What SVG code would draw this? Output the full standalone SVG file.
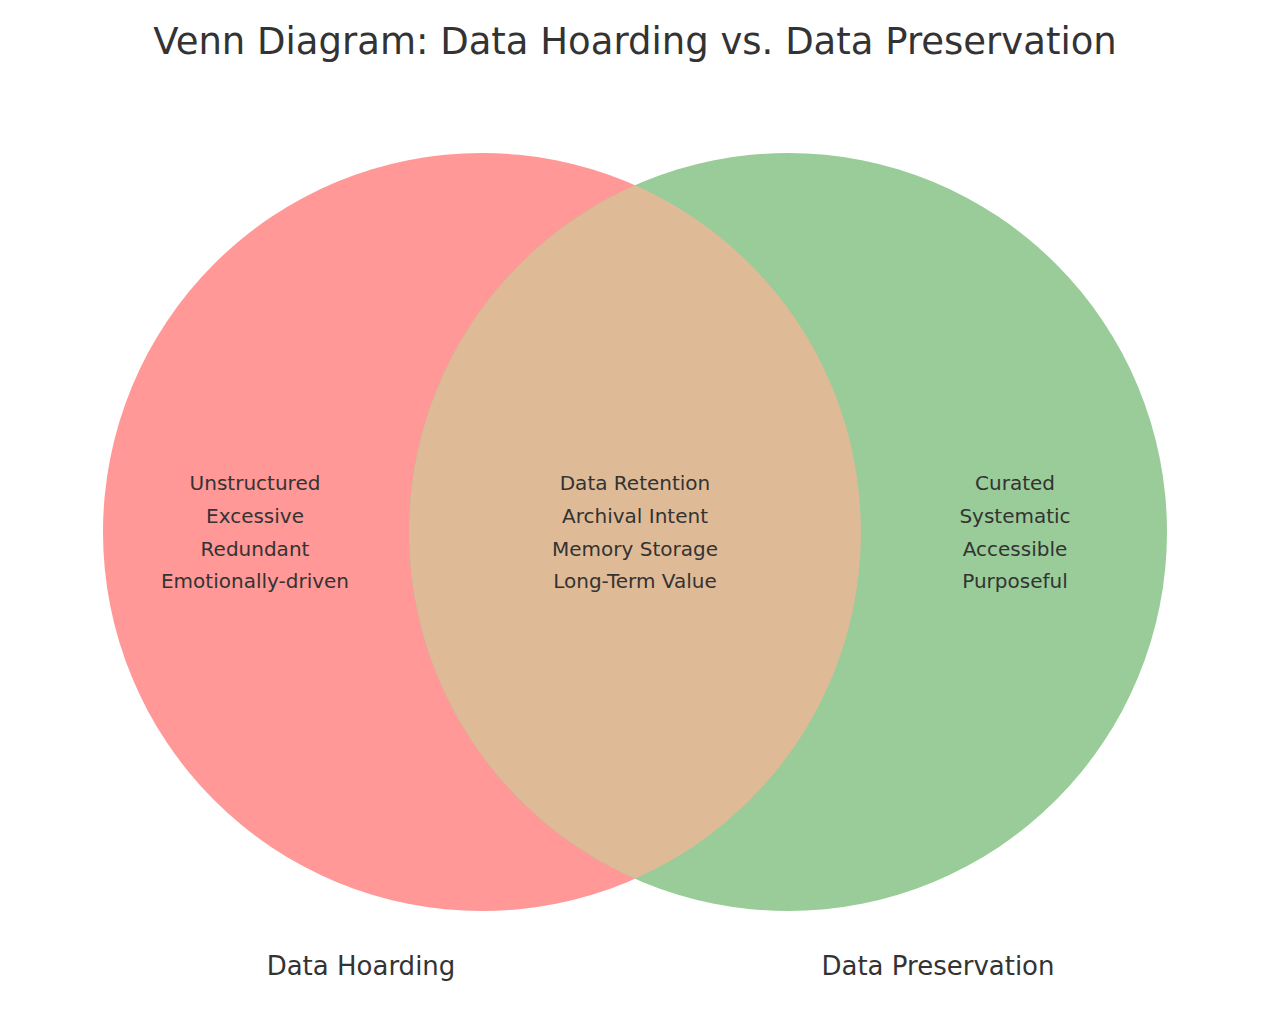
<svg xmlns="http://www.w3.org/2000/svg" width="1270" height="1014" viewBox="0 0 1270 1014">
<style>
text{font-family:"DejaVu Sans",sans-serif;fill:#333;text-anchor:middle}
.s{font-size:20px}
.l{font-size:26px}
</style>
<rect width="1270" height="1014" fill="#fff"/>
<text x="635" y="54" style="font-size:37px">Venn Diagram: Data Hoarding vs. Data Preservation</text>
<g id="hoarding"><circle cx="482" cy="532" r="379" fill="#ff9896"/></g>
<g id="preservation"><circle cx="788" cy="532" r="379" fill="#99cc99"/></g>
<g id="overlap"><path d="M635,185.3 A379,379 0 0 1 635,878.7 A379,379 0 0 1 635,185.3 Z" fill="#dfba96"/></g>
<g id="texts">
<text class="s" x="255" y="490">Unstructured</text>
<text class="s" x="255" y="523">Excessive</text>
<text class="s" x="255" y="556">Redundant</text>
<text class="s" x="255" y="588">Emotionally-driven</text>
<text class="s" x="635" y="490">Data Retention</text>
<text class="s" x="635" y="523">Archival Intent</text>
<text class="s" x="635" y="556">Memory Storage</text>
<text class="s" x="635" y="588">Long-Term Value</text>
<text class="s" x="1015" y="490">Curated</text>
<text class="s" x="1015" y="523">Systematic</text>
<text class="s" x="1015" y="556">Accessible</text>
<text class="s" x="1015" y="588">Purposeful</text>
<text class="l" x="361" y="975">Data Hoarding</text>
<text class="l" x="938" y="975">Data Preservation</text>
</g>
<g id="connectors"/>
</svg>
